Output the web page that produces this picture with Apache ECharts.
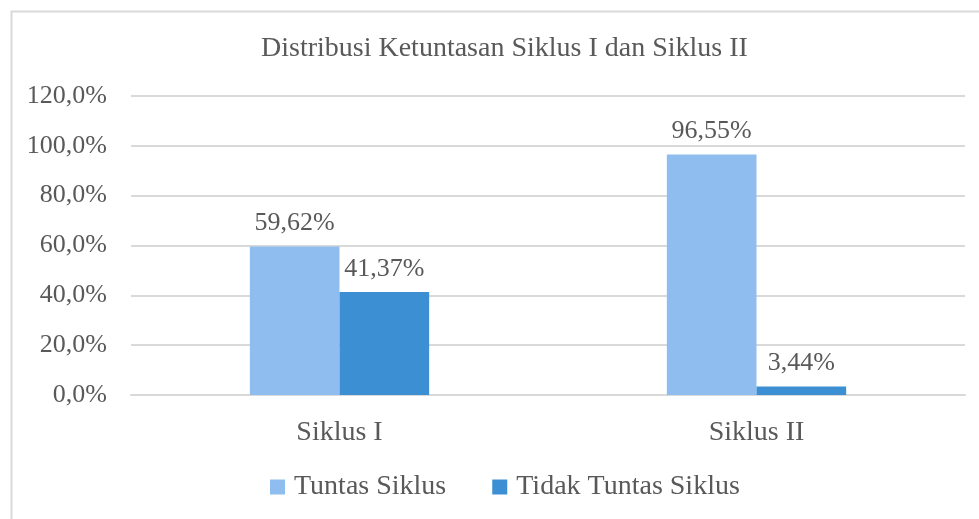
<!DOCTYPE html>
<html><head><meta charset="utf-8">
<script src="https://cdn.jsdelivr.net/npm/echarts@6/dist/echarts.min.js"></script>
<style>html,body{margin:0;padding:0;background:#fff}#c{width:979px;height:519px}</style>
</head><body><div id="c"></div>
<script>
const categories = ['Siklus I', 'Siklus II'];
const tuntas = [59.62, 96.55];
const tidakTuntas = [41.37, 3.44];
const seriesNames = ['Tuntas Siklus', 'Tidak Tuntas Siklus'];
const titleText = 'Distribusi Ketuntasan Siklus I dan Siklus II';

const FONT = '"Liberation Serif", "DejaVu Serif", serif';
const TXT = '#595959';
const fmtPct = v => v.toFixed(2).replace('.', ',') + '%';
const chart = echarts.init(document.getElementById('c'), null, {renderer: 'canvas'});
chart.setOption({
  backgroundColor: '#fff',
  animation: false,
  graphic: [{
    type: 'rect', left: 9, top: 9, z: -1,
    shape: {width: 1000, height: 540},
    style: {fill: 'none', stroke: '#D9D9D9', lineWidth: 2}
  }],
  title: {
    text: titleText, left: 256, top: 30,
    textStyle: {fontFamily: FONT, fontSize: 28, fontWeight: 'normal', color: TXT}
  },
  legend: {
    data: seriesNames, bottom: 13, left: 265,
    itemWidth: 15, itemHeight: 15, itemGap: 46, icon: 'rect',
    textStyle: {fontFamily: FONT, fontSize: 28, color: TXT, padding: [0,0,0,4]}
  },
  grid: {left: 131, right: 14, top: 96, bottom: 124, containLabel: false},
  xAxis: {
    type: 'category', data: categories,
    axisLine: {lineStyle: {color: '#D9D9D9', width: 2}},
    axisTick: {show: false},
    axisLabel: {fontFamily: FONT, fontSize: 28, color: TXT, margin: 24}
  },
  yAxis: {
    type: 'value', min: 0, max: 120, interval: 20,
    axisLine: {show: false}, axisTick: {show: false},
    splitLine: {lineStyle: {color: '#D9D9D9', width: 2}},
    axisLabel: {fontFamily: FONT, fontSize: 26, color: TXT, margin: 24,
      formatter: v => v.toFixed(1).replace('.', ',') + '%'}
  },
  series: [
    {name: seriesNames[0], type: 'bar', data: tuntas, barGap: '0%', barCategoryGap: '57%',
     itemStyle: {color: '#8FBDEF'},
     label: {show: true, position: 'top', distance: 10, fontFamily: FONT, fontSize: 26, color: TXT,
       formatter: p => fmtPct(p.value)}},
    {name: seriesNames[1], type: 'bar', data: tidakTuntas, barGap: '0%', barCategoryGap: '57%',
     itemStyle: {color: '#3D8FD3'},
     label: {show: true, position: 'top', distance: 10, fontFamily: FONT, fontSize: 26, color: TXT,
       formatter: p => fmtPct(p.value)}}
  ]
});
</script></body></html>
